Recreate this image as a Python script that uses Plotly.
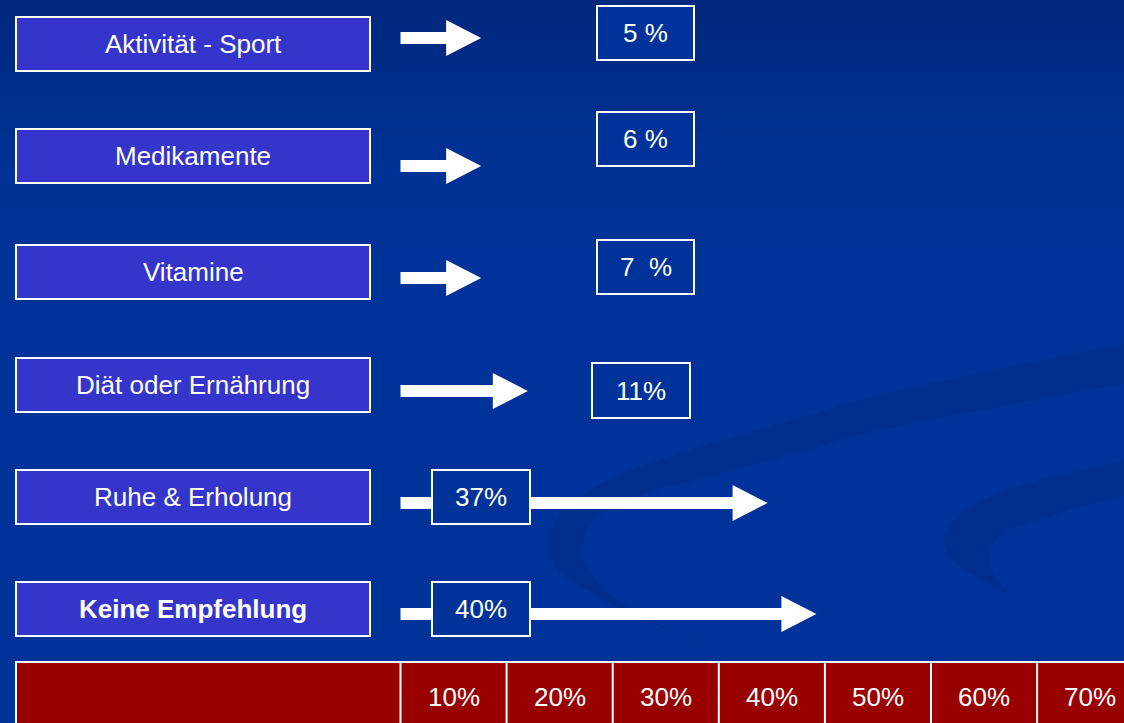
import plotly.graph_objects as go

# ---------------- data ----------------
categories = ["Aktivität - Sport", "Medikamente", "Vitamine",
              "Diät oder Ernährung", "Ruhe & Erholung", "Keine Empfehlung"]
values = [5, 6, 7, 11, 37, 40]
value_labels = ["5 %", "6 %", "7\u00a0 %", "11%", "37%", "40%"]
# where each arrow tip sits on the percent scale, as drawn in the picture
arrow_reach = [7.6, 7.6, 7.6, 12.0, 34.6, 39.2]
scale_ticks = [10, 20, 30, 40, 50, 60, 70]
scale_labels = ["10%", "20%", "30%", "40%", "50%", "60%", "70%"]
bold_rows = [False, False, False, False, False, True]

# ---------------- layout constants ----------------
W, H = 1124, 723
PX0 = 400.5          # pixel of 0 %
PX_PER = 10.61       # pixels per 1 %
XMIN = (0 - PX0) / PX_PER
XMAX = (W - PX0) / PX_PER

FONT = "Liberation Sans, Arial, sans-serif"
FS = 26
BG = "#003399"
LABEL_FILL = "#3535CC"
RED = "#990000"

label_box_y = [(17, 71), (129, 183), (245, 299), (358, 412), (470, 524), (582, 636)]
label_box_x = (16, 370)
arrow_y = [38, 166, 278, 391, 503, 614]
pct_boxes = [(597, 694, 6, 60), (597, 694, 112, 166), (597, 694, 240, 294),
             (592, 690, 363, 418), (432, 530, 470, 524), (432, 530, 582, 636)]
SHAFT_H = 6
HEAD_H = 18
HEAD_L = 35 / PX_PER
BAR_TOP = 662


def P(px):
    return px / W


def smooth(pts, n=8):
    """Catmull-Rom through decorative outline points."""
    out = []
    m = len(pts)
    for i in range(m - 1):
        p0 = pts[max(i - 1, 0)]
        p1 = pts[i]
        p2 = pts[i + 1]
        p3 = pts[min(i + 2, m - 1)]
        for k in range(n):
            t = k / n
            t2, t3 = t * t, t * t * t
            x = 0.5 * ((2 * p1[0]) + (-p0[0] + p2[0]) * t + (2 * p0[0] - 5 * p1[0] + 4 * p2[0] - p3[0]) * t2
                       + (-p0[0] + 3 * p1[0] - 3 * p2[0] + p3[0]) * t3)
            y = 0.5 * ((2 * p1[1]) + (-p0[1] + p2[1]) * t + (2 * p0[1] - 5 * p1[1] + 4 * p2[1] - p3[1]) * t2
                       + (-p0[1] + 3 * p1[1] - 3 * p2[1] + p3[1]) * t3)
            out.append((x, y))
    out.append(pts[-1])
    return out


shapes = []

# background swooshes (subtle darker bands)
band1_top = [(1140, 340), (900, 390), (808, 415), (700, 447), (624, 473), (572, 503),
             (550, 532), (555, 567), (590, 592), (640, 618), (720, 648), (800, 668)]
band1_bot = [(800, 668), (700, 642), (652, 620), (603, 588), (583, 555), (596, 518), (644, 494),
             (700, 479), (808, 450), (900, 426), (1140, 381)]
band2_top = [(1140, 457), (1014, 487), (958, 516), (944, 547), (968, 572), (1012, 596)]
band2_bot = [(1012, 596), (995, 577), (990, 553), (1014, 528), (1140, 491)]


def path_from(pts):
    return "M " + " L ".join(f"{P(x):.5f},{y:.2f}" for x, y in pts) + " Z"


for top, bot in ((band1_top, band1_bot), (band2_top, band2_bot)):
    pts = smooth(top) + smooth(bot)
    shapes.append(dict(type="path", xref="paper", yref="y", path=path_from(pts),
                       fillcolor="rgba(0,30,110,0.2)", line=dict(width=0), layer="above"))

# bottom red scale bar
shapes.append(dict(type="rect", xref="paper", yref="y", x0=P(16), x1=1.05, y0=BAR_TOP, y1=760,
                   fillcolor=RED, line=dict(color="white", width=2)))
for t in [0] + scale_ticks[:-1]:
    shapes.append(dict(type="line", xref="x", yref="y", x0=t, x1=t, y0=BAR_TOP, y1=760,
                       line=dict(color="white", width=2)))

annotations = []

# label boxes
for i, cat in enumerate(categories):
    y0, y1 = label_box_y[i]
    shapes.append(dict(type="rect", xref="paper", yref="y", x0=P(label_box_x[0]), x1=P(label_box_x[1]),
                       y0=y0, y1=y1, fillcolor=LABEL_FILL, line=dict(color="white", width=2)))
    txt = f"<b>{cat}</b>" if bold_rows[i] else cat
    annotations.append(dict(xref="paper", yref="y", x=P((label_box_x[0] + label_box_x[1]) / 2),
                            y=(y0 + y1) / 2, text=txt, showarrow=False,
                            xanchor="center", yanchor="middle",
                            font=dict(family=FONT, size=FS, color="white")))

# arrows (drawn on the percent scale)
for i, reach in enumerate(arrow_reach):
    yc = arrow_y[i]
    hs = reach - HEAD_L
    path = (f"M 0,{yc - SHAFT_H} L {hs},{yc - SHAFT_H} L {hs},{yc - HEAD_H} L {reach},{yc} "
            f"L {hs},{yc + HEAD_H} L {hs},{yc + SHAFT_H} L 0,{yc + SHAFT_H} Z")
    shapes.append(dict(type="path", xref="x", yref="y", path=path,
                       fillcolor="white", line=dict(color="white", width=0)))

# value boxes
for i, lab in enumerate(value_labels):
    x0, x1, y0, y1 = pct_boxes[i]
    shapes.append(dict(type="rect", xref="paper", yref="y", x0=P(x0), x1=P(x1), y0=y0, y1=y1,
                       fillcolor=BG, line=dict(color="white", width=2)))
    annotations.append(dict(xref="paper", yref="y", x=P((x0 + x1) / 2), y=(y0 + y1) / 2,
                            text=lab, showarrow=False, xanchor="center", yanchor="middle",
                            font=dict(family=FONT, size=FS, color="white")))

# scale labels
for t, lab in zip(scale_ticks, scale_labels):
    annotations.append(dict(xref="x", yref="y", x=t - 5, y=697, text=lab, showarrow=False,
                            xanchor="center", yanchor="middle",
                            font=dict(family=FONT, size=FS, color="white")))

# background gradient
grad_y = [0, 50, 100, 150, 200, 260, 723]
grad_z = [0.0, 0.3, 0.55, 0.75, 0.9, 1.0, 1.0]
bg = go.Heatmap(x=[XMIN - 1, XMAX + 1], y=grad_y, z=[[v, v] for v in grad_z],
                colorscale=[[0, "#00287c"], [1, BG]], zmin=0, zmax=1, zsmooth="best",
                showscale=False, hoverinfo="skip")

fig = go.Figure(bg)
fig.update_layout(
    width=W, height=H, margin=dict(l=0, r=0, t=0, b=0),
    paper_bgcolor=BG, plot_bgcolor=BG,
    xaxis=dict(range=[XMIN, XMAX], visible=False, fixedrange=True),
    yaxis=dict(range=[H, 0], visible=False, fixedrange=True),
    shapes=shapes, annotations=annotations, showlegend=False,
)
fig.write_html("out.html", config={"displayModeBar": False})
